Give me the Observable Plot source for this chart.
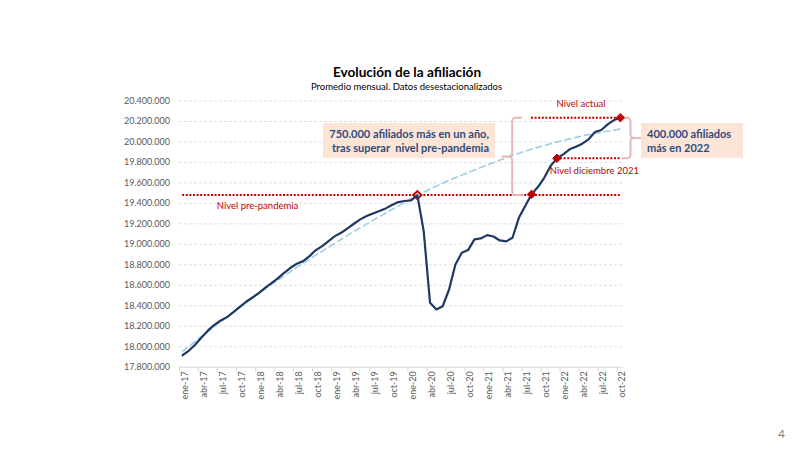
<!DOCTYPE html>
<html>
<head>
<meta charset="utf-8">
<script src="https://cdn.jsdelivr.net/npm/d3@7"></script>
<script src="https://cdn.jsdelivr.net/npm/@observablehq/plot@0.6"></script>
<style>
  body { margin: 0; background: #fff; font-family: Lato, "Open Sans", sans-serif; }
  #wrap { position: relative; width: 800px; height: 450px; overflow: hidden; }
  #chart { position: absolute; left: 0; top: 0; }
  .t { position: absolute; white-space: nowrap; }
  #title { left: 0; width: 814px; top: 63px; line-height: 18px; text-align: center; font-weight: bold; font-size: 13.6px; color: #000; }
  #subtitle { left: 0; width: 813px; top: 81px; line-height: 12px; text-align: center; font-size: 9.5px; color: #000; }
  .box { position: absolute; background: #FCE4D6; color: #2F4B7C; font-weight: bold; font-size: 11px; line-height: 14px;
         display: flex; flex-direction: column; justify-content: center; box-sizing: border-box; white-space: nowrap; }
  #box1 { left: 323px; top: 123px; width: 172px; height: 35px; text-align: right; padding-right: 6px; }
  #box2 { left: 641px; top: 123px; width: 102px; height: 35px; text-align: left; padding-left: 6px; line-height: 13.5px; }
  #page { left: 778px; top: 426px; font-size: 12px; color: #7f7f7f; }
</style>
</head>
<body>
<div id="wrap">
  <div id="chart"></div>
  <div class="t" id="title">Evolución de la afiliación</div>
  <div class="t" id="subtitle">Promedio mensual. Datos desestacionalizados</div>
  <div class="box" id="box1"><span>750.000 afiliados más en un año,</span><span>tras superar&nbsp; nivel pre-pandemia</span></div>
  <div class="box" id="box2"><span>400.000 afiliados</span><span>más en 2022</span></div>
  <div class="t" id="page">4</div>
</div>
<script>
// ---- Data (afiliados en miles) ----
const meses = [
  "ene-17","feb-17","mar-17","abr-17","may-17","jun-17","jul-17","ago-17","sep-17","oct-17","nov-17","dic-17",
  "ene-18","feb-18","mar-18","abr-18","may-18","jun-18","jul-18","ago-18","sep-18","oct-18","nov-18","dic-18",
  "ene-19","feb-19","mar-19","abr-19","may-19","jun-19","jul-19","ago-19","sep-19","oct-19","nov-19","dic-19",
  "ene-20","feb-20","mar-20","abr-20","may-20","jun-20","jul-20","ago-20","sep-20","oct-20","nov-20","dic-20",
  "ene-21","feb-21","mar-21","abr-21","may-21","jun-21","jul-21","ago-21","sep-21","oct-21","nov-21","dic-21",
  "ene-22","feb-22","mar-22","abr-22","may-22","jun-22","jul-22","ago-22","sep-22","oct-22"
];
const afiliados = [
  17917,17963,18022,18093,18159,18214,18256,18289,18338,18390,18439,18481,
  18523,18575,18621,18667,18722,18771,18810,18836,18885,18944,18983,19032,
  19080,19113,19156,19201,19244,19276,19302,19325,19351,19384,19413,19423,
  19429,19481,19129,18429,18364,18396,18559,18804,18917,18944,19048,19058,
  19090,19077,19038,19029,19064,19259,19374,19488,19560,19650,19765,19840,
  19879,19928,19954,19983,20026,20097,20117,20172,20214,20237
];
// tendencia (línea discontinua), leída cada trimestre
const tendenciaMes = ["ene-17","abr-17","jul-17","oct-17","ene-18","abr-18","jul-18","oct-18","ene-19","abr-19","jul-19","oct-19",
  "ene-20","abr-20","jul-20","oct-20","ene-21","abr-21","jul-21","oct-21","ene-22","abr-22","jul-22","oct-22"];
const tendencia = [17956,18100,18245,18385,18520,18650,18775,18895,19010,19125,19235,19340,
  19445,19540,19625,19700,19775,19845,19910,19965,20015,20058,20095,20126];
const yTicks = [17800000,18000000,18200000,18400000,18600000,18800000,19000000,19200000,19400000,19600000,19800000,20000000,20200000,20400000];
const xTickLabels = ["ene-17","abr-17","jul-17","oct-17","ene-18","abr-18","jul-18","oct-18","ene-19","abr-19","jul-19","oct-19",
  "ene-20","abr-20","jul-20","oct-20","ene-21","abr-21","jul-21","oct-21","ene-22","abr-22","jul-22","oct-22"];

// ---- Derived tables ----
const serie = afiliados.map((v, i) => ({i, mes: meses[i], v: v * 1000}));
const tend = tendencia.map((v, k) => ({i: meses.indexOf(tendenciaMes[k]), v: v * 1000}));
const xTicks = xTickLabels.map(m => meses.indexOf(m));
const tickLimites = xTicks.map(i => i - 0.5);
const iPre = meses.indexOf("feb-20"), iCruce = meses.indexOf("ago-21"), iDic = meses.indexOf("dic-21"), iAct = meses.length - 1;
const nPre = serie[iPre].v, nDic = serie[iDic].v, nAct = serie[iAct].v;

const W = 800, H = 450, mL = 179, mR = 177, mT = 100.5, mB = 83.3;
const xDom = [-0.5, meses.length - 0.5], yDom = [yTicks[0], yTicks[yTicks.length - 1]];
const kx = (W - mL - mR) / (xDom[1] - xDom[0]);
const ky = (H - mT - mB) / (yDom[1] - yDom[0]);

function llave(xv, yTop, yBot, hook, tip) {
  const r = 3, yM = (yTop + yBot) / 2, s = Math.sign(hook), t = Math.sign(tip);
  const P = [
    [hook, yTop, 0], [s*r, yTop, 0], [s*r*0.3, yTop, r*0.3], [0, yTop, r],
    [0, yM, -r], [t*r*0.3, yM, -r*0.3], [t*r, yM, 0], [tip, yM, 0],
    [t*r, yM, 0], [t*r*0.3, yM, r*0.3], [0, yM, r],
    [0, yBot, -r], [s*r*0.3, yBot, -r*0.3], [s*r, yBot, 0], [hook, yBot, 0]
  ];
  return P.map(([dx, yv, dy]) => ({i: xv + dx / kx, v: yv - dy / ky}));
}
const llave1 = llave(51.95, nAct, nPre, 9, -10);
const llave2 = llave(70.6, nAct, nDic, -8.3, 10);

const fmt = d3.formatLocale({decimal: ",", thousands: ".", grouping: [3], currency: ["", "€"]}).format(",d");
const rojo = "#C00000";
const dotted = {stroke: rojo, strokeWidth: 2, strokeDasharray: "2,1.6"};

const chart = Plot.plot({
  width: W, height: H, marginLeft: mL, marginRight: mR, marginTop: mT, marginBottom: mB,
  style: {fontFamily: "Lato, 'Open Sans', sans-serif", background: "transparent"},
  x: {domain: xDom, axis: null, label: null},
  y: {domain: yDom, axis: null, label: null},
  marks: [
    Plot.ruleY(yTicks.slice(1), {x1: xDom[0], x2: xDom[1], stroke: "#d9d9d9", strokeWidth: 0.8, strokeDasharray: "3,2"}),
    Plot.ruleY([yDom[0]], {x1: xDom[0], x2: xDom[1], stroke: "#d9d9d9", strokeWidth: 1}),
    Plot.ruleX(tickLimites, {y1: yDom[0], y2: yDom[0], insetBottom: -5, stroke: "#d9d9d9", strokeWidth: 1}),
    Plot.axisY({ticks: yTicks, tickSize: 0, tickPadding: 9.5, tickFormat: fmt, fontSize: 9, color: "#595959", label: null}),
    Plot.axisX({ticks: xTicks, tickFormat: i => meses[i], tickRotate: -90, tickSize: 0, tickPadding: 4, fontSize: 9, color: "#595959", dx: 2, label: null}),
    Plot.line(tend, {x: "i", y: "v", stroke: "#9ECDE4", strokeWidth: 1.6, strokeDasharray: "6,4", curve: "natural"}),
    Plot.ruleY([nPre], {x1: 0, x2: iAct, ...dotted}),
    Plot.ruleY([nAct], {x1: iCruce, x2: iAct, ...dotted}),
    Plot.ruleY([nDic], {x1: iDic, x2: iAct, ...dotted}),
    Plot.line(llave1, {x: "i", y: "v", stroke: "#E6B9B8", strokeWidth: 2, strokeLinejoin: "round"}),
    Plot.line(llave2, {x: "i", y: "v", stroke: "#E6B9B8", strokeWidth: 2, strokeLinejoin: "round"}),
    Plot.dot([serie[iPre]], {x: "i", y: "v", symbol: "diamond2", r: 3.6, stroke: rojo, strokeWidth: 2, fill: "white"}),
    Plot.line(serie, {x: "i", y: "v", stroke: "#1F3864", strokeWidth: 2.2}),
    Plot.dot([serie[iCruce], serie[iDic], serie[iAct]], {x: "i", y: "v", symbol: "diamond2", r: 3.8, fill: rojo, stroke: rojo, strokeWidth: 1}),
    Plot.text([{i: 11.8, v: nPre, t: "Nivel pre-pandemia"}], {x: "i", y: "v", text: "t", dy: 11, fill: rojo, fontSize: 9.5}),
    Plot.text([{i: 62.8, v: nAct, t: "Nivel actual"}], {x: "i", y: "v", text: "t", dy: -13.3, fill: rojo, fontSize: 9.5}),
    Plot.text([{i: 64.9, v: nDic, t: "Nivel diciembre 2021"}], {x: "i", y: "v", text: "t", dy: 12.7, fill: rojo, fontSize: 9.5})
  ]
});
document.getElementById("chart").appendChild(chart);
</script>
</body>
</html>
